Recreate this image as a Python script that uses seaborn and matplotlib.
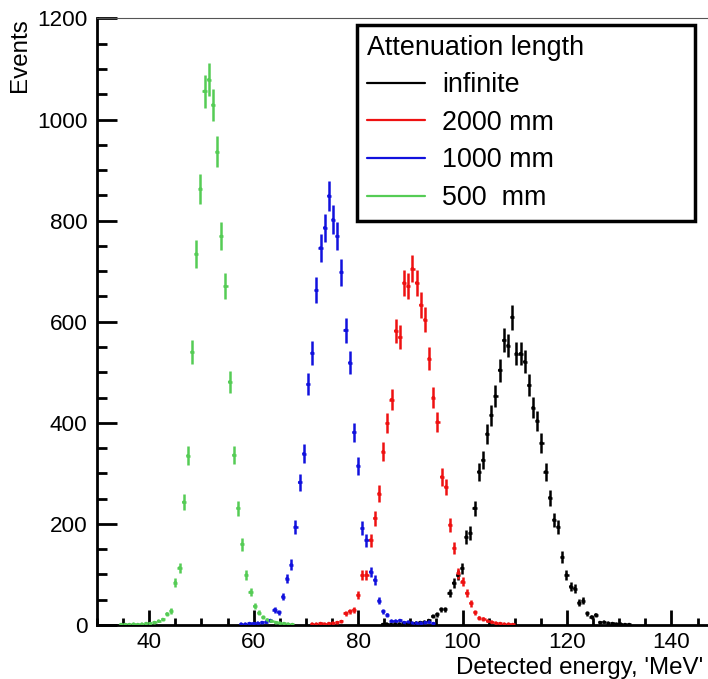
import numpy as np
import pandas as pd
import matplotlib
matplotlib.use("Agg")
import matplotlib.pyplot as plt
import seaborn as sns
from matplotlib.ticker import MultipleLocator
from matplotlib.lines import Line2D

# ---------------- data ----------------
BIN_WIDTH = 0.8  # MeV

series_names = ["infinite", "2000 mm", "1000 mm", "500  mm"]
series_colors = ["#000000", "#ee1111", "#1111dd", "#55cc55"]

# first bin centre of each series, then counts in consecutive bins
inf_start = 84.7
inf_counts = [1, 2, 1, 2, 2, 3, 2, 3, 4, 5, 6, 9, 17, 21, 31, 31, 63, 83, 98, 112,
              174, 182, 231, 303, 326, 378, 415, 453, 504, 563, 553, 609, 537, 537,
              521, 474, 430, 404, 360, 303, 252, 208, 194, 134, 99, 76, 72, 44, 48,
              23, 16, 20, 5, 6, 4, 3, 2, 2, 1, 1]

l2000_start = 71.2
l2000_counts = [2, 2, 3, 2, 3, 4, 5, 7, 23, 27, 30, 59, 98, 99, 168, 211, 260, 343,
                399, 446, 582, 569, 677, 670, 705, 677, 633, 604, 527, 450, 402, 293,
                273, 198, 152, 102, 86, 63, 43, 25, 14, 12, 8, 6, 4, 3, 2, 2, 1]

l1000_start = 57.6
l1000_counts = [2, 2, 3, 3, 4, 5, 6, 9, 30, 25, 56, 92, 119, 194, 282, 339, 476, 538,
                662, 746, 786, 849, 802, 769, 698, 583, 519, 381, 315, 191, 168, 105,
                89, 48, 27, 20, 8, 8, 9, 5, 6, 4, 4, 4, 5, 6, 3]

l500_start = 34.6
l500_counts = [1, 1, 1, 2, 1, 2, 3, 3, 5, 8, 11, 22, 28, 84, 113, 243, 335, 540, 734,
               863, 1056, 1079, 1029, 936, 769, 670, 481, 336, 231, 160, 99, 65, 37,
               24, 15, 10, 8, 5, 4, 3, 2, 1]

starts = [inf_start, l2000_start, l1000_start, l500_start]
counts = [inf_counts, l2000_counts, l1000_counts, l500_counts]

frames = []
for name, s, c in zip(series_names, starts, counts):
    c = np.asarray(c, dtype=float)
    x = s + BIN_WIDTH * np.arange(len(c))
    frames.append(pd.DataFrame({"energy": x, "events": c, "series": name,
                                "err": np.sqrt(c)}))
df = pd.concat(frames, ignore_index=True)

# ---------------- figure ----------------
sns.set_style("white")
plt.rcParams["font.family"] = ["Liberation Sans", "DejaVu Sans"]
plt.rcParams["text.color"] = "black"
plt.rcParams["axes.labelcolor"] = "black"
plt.rcParams["xtick.color"] = "black"
plt.rcParams["ytick.color"] = "black"

W, H = 708, 679
fig = plt.figure(figsize=(W / 100, H / 100), dpi=100)
ax_left, ax_right, ax_top, ax_bot = 97, 708, 18.5, 625
ax = fig.add_axes([ax_left / W, 1 - ax_bot / H,
                   (ax_right - ax_left) / W, (ax_bot - ax_top) / H])

palette = dict(zip(series_names, series_colors))
for name in series_names:
    d = df[df["series"] == name]
    ax.errorbar(d["energy"], d["events"], yerr=d["err"], xerr=BIN_WIDTH / 2,
                fmt="none", ecolor=palette[name], elinewidth=1.8, capsize=0,
                zorder=3)
sns.scatterplot(data=df, x="energy", y="events", hue="series", palette=palette,
                s=6, marker="o", edgecolor="none", legend=False, ax=ax, zorder=4)

ax.set_xlim(30, 147)
ax.set_ylim(0, 1200)

ax.xaxis.set_major_locator(MultipleLocator(20))
ax.xaxis.set_minor_locator(MultipleLocator(5))
ax.yaxis.set_major_locator(MultipleLocator(200))
ax.yaxis.set_minor_locator(MultipleLocator(50))

ax.tick_params(axis="y", which="both", direction="in", left=True, right=False,
               width=2.0, color="black", labelcolor="black", labelsize=16.2, pad=7)
ax.tick_params(axis="y", which="major", length=14.5)
ax.tick_params(axis="y", which="minor", length=7)
ax.tick_params(axis="x", which="both", direction="in", bottom=True, top=False,
               width=2.0, color="black", labelcolor="black", labelsize=16.2, pad=5)
ax.tick_params(axis="x", which="major", length=10.5)
ax.tick_params(axis="x", which="minor", length=5)

for sp in ["left", "bottom"]:
    ax.spines[sp].set_color("black")
    ax.spines[sp].set_linewidth(2.0)
ax.spines["top"].set_color("#555555")
ax.spines["top"].set_linewidth(0.8)
ax.spines["right"].set_visible(False)

ax.set_xlabel("Detected energy, 'MeV'", fontsize=17.4, ha="right", va="center",
              color="black")
ax.xaxis.set_label_coords(0.992, -0.071)
ax.set_ylabel("Events", fontsize=17.4, ha="right", va="center", color="black")
ax.yaxis.set_label_coords(-0.126, 1.0)

handles = [Line2D([0], [0], color=c, lw=1.6) for c in series_colors]
leg = fig.legend(handles, series_names, title="Attenuation length",
                 loc="upper left",
                 bbox_to_anchor=(357 / W, 1 - 221 / H, (695 - 357) / W, (221 - 25) / H),
                 mode="expand", borderaxespad=0, fontsize=19.4, title_fontsize=19.4,
                 frameon=True, fancybox=False, framealpha=1, edgecolor="black",
                 handlelength=2.15, handletextpad=0.65, labelspacing=0.43,
                 borderpad=0.36)
leg.get_frame().set_linewidth(2.5)
leg._legend_box.align = "left"
for t in leg.get_texts():
    t.set_color("black")
leg.get_title().set_color("black")

fig.savefig("out.png", dpi=100)
